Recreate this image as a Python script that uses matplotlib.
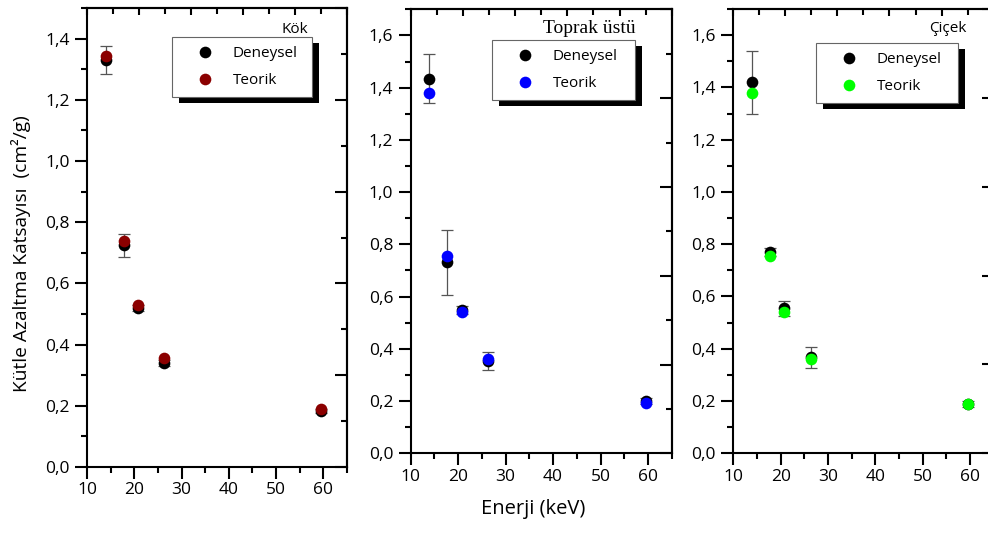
import matplotlib.pyplot as plt
from matplotlib.ticker import MultipleLocator, LinearLocator, FuncFormatter
from matplotlib.patches import Rectangle
from matplotlib.transforms import IdentityTransform

plt.rcParams['font.family'] = ['Open Sans', 'DejaVu Sans']

# photon energies (keV)
energy = [13.95, 17.74, 20.8, 26.34, 59.54]

kok_deneysel = [1.330, 0.724, 0.521, 0.339, 0.183]
kok_hata = [0.046, 0.037, 0.010, 0.010, 0.008]
kok_teorik = [1.344, 0.739, 0.530, 0.356, 0.191]

toprak_deneysel = [1.435, 0.731, 0.548, 0.352, 0.200]
toprak_hata = [0.095, 0.123, 0.015, 0.034, 0.010]
toprak_teorik = [1.381, 0.755, 0.540, 0.360, 0.191]

cicek_deneysel = [1.420, 0.769, 0.555, 0.368, 0.189]
cicek_hata = [0.120, 0.015, 0.028, 0.040, 0.012]
cicek_teorik = [1.380, 0.756, 0.539, 0.360, 0.189]

W, H = 988, 538


def rect(l, t, r, b):
    # pixel box (top-left origin) -> figure fraction
    return [l / W, 1 - b / H, (r - l) / W, (b - t) / H]


comma = FuncFormatter(lambda v, p: '{:.1f}'.format(v).replace('.', ','))
comma_int = FuncFormatter(lambda v, p: '{:.0f}'.format(v))

panels = [
    dict(name='Kök', den=kok_deneysel, err=kok_hata, teo=kok_teorik, color='#8b0000',
         ymax=1.5, box=(87, 8, 347, 467), leg=(172, 37, 312, 93),
         title_pos=(308, 33), title_font=['Open Sans'], title_size=11),
    dict(name='Toprak üstü', den=toprak_deneysel, err=toprak_hata, teo=toprak_teorik, color='#0000ff',
         ymax=1.7, box=(410.7, 9.3, 671.7, 453.3), leg=(492, 40, 635, 95),
         title_pos=(636, 32.7), title_font=['Liberation Serif'], title_size=14),
    dict(name='Çiçek', den=cicek_deneysel, err=cicek_hata, teo=cicek_teorik, color='#00ff00',
         ymax=1.7, box=(733.3, 9, 993.6, 453.3), leg=(816, 43, 958, 98),
         title_pos=(966, 32.5), title_font=['Open Sans'], title_size=11),
]

fig = plt.figure(figsize=(W / 100, H / 100), dpi=100)
legends = []

for p in panels:
    ax = fig.add_axes(rect(*p['box']))
    ax.errorbar(energy, p['den'], yerr=p['err'], fmt='none', ecolor='#555555',
                elinewidth=0.9, capsize=4, capthick=0.9, zorder=2)
    ax.plot(energy, p['den'], 'o', color='black', ms=8.4, mec='none', label='Deneysel', zorder=3)
    ax.plot(energy, p['teo'], 'o', color=p['color'], ms=8.4, mec='none', label='Teorik', zorder=4)

    ax.set_xlim(10, 65)
    ax.set_ylim(0, p['ymax'])
    ax.xaxis.set_major_locator(MultipleLocator(10))
    ax.xaxis.set_minor_locator(MultipleLocator(5))
    ax.yaxis.set_major_locator(MultipleLocator(0.2))
    ax.yaxis.set_minor_locator(MultipleLocator(0.1))
    ax.xaxis.set_major_formatter(comma_int)
    ax.yaxis.set_major_formatter(comma)
    ax.tick_params(which='major', direction='out', length=8.5, width=1.5, labelsize=12.5)
    ax.tick_params(axis='y', which='major', pad=4)
    ax.tick_params(axis='x', which='major', pad=2.5)
    ax.tick_params(which='minor', direction='out', length=4.5, width=1.5)
    for s in ax.spines.values():
        s.set_linewidth(1.5)

    # mirrored top/right axes, each split into ten equal parts
    top = ax.secondary_xaxis('top')
    top.xaxis.set_major_locator(LinearLocator(6))
    top.xaxis.set_minor_locator(LinearLocator(11))
    top.tick_params(which='both', direction='in', labeltop=False, width=1.5)
    top.tick_params(which='major', length=5)
    top.tick_params(which='minor', length=4)
    top.spines['top'].set_linewidth(1.5)

    right = ax.secondary_yaxis('right')
    right.yaxis.set_major_locator(LinearLocator(6))
    right.yaxis.set_minor_locator(LinearLocator(11))
    right.tick_params(which='both', direction='in', labelright=False, width=1.5)
    right.tick_params(which='major', length=8.5)
    right.tick_params(which='minor', length=4.5)
    right.spines['right'].set_linewidth(1.5)

    leg = ax.legend(loc='upper left', bbox_to_anchor=rect(*p['leg']), bbox_transform=fig.transFigure,
                    mode='expand', borderaxespad=0, fancybox=False, framealpha=1,
                    edgecolor='#666666', fontsize=11, handlelength=3.1, handletextpad=0.25,
                    borderpad=0.62, labelspacing=0.75, numpoints=1)
    leg.get_frame().set_linewidth(0.8)
    leg.set_zorder(6)
    legends.append((ax, leg))

    tx, ty = p['title_pos']
    fig.text(tx / W, 1 - ty / H, p['name'], ha='right', va='baseline',
             fontsize=p['title_size'], family=p['title_font'] + ['DejaVu Sans'])

fig.text(533 / W, 1 - 509 / H, 'Enerji (keV)', ha='center', va='center', fontsize=14.5)
fig.text(21.5 / W, 1 - 254 / H, 'Kütle Azaltma Katsayısı  (cm²/g)', rotation=90,
         ha='center', va='center', fontsize=13.8)

# solid black drop shadow behind each legend box
fig.canvas.draw()
renderer = fig.canvas.get_renderer()
for ax, leg in legends:
    bb = leg.get_frame().get_window_extent(renderer)
    shadow = Rectangle((bb.x0 + 7, bb.y0 - 6), bb.width, bb.height, transform=IdentityTransform(),
                       facecolor='black', edgecolor='none', zorder=5.5, clip_on=False)
    ax.add_artist(shadow)

fig.savefig('out.png', dpi=100)
